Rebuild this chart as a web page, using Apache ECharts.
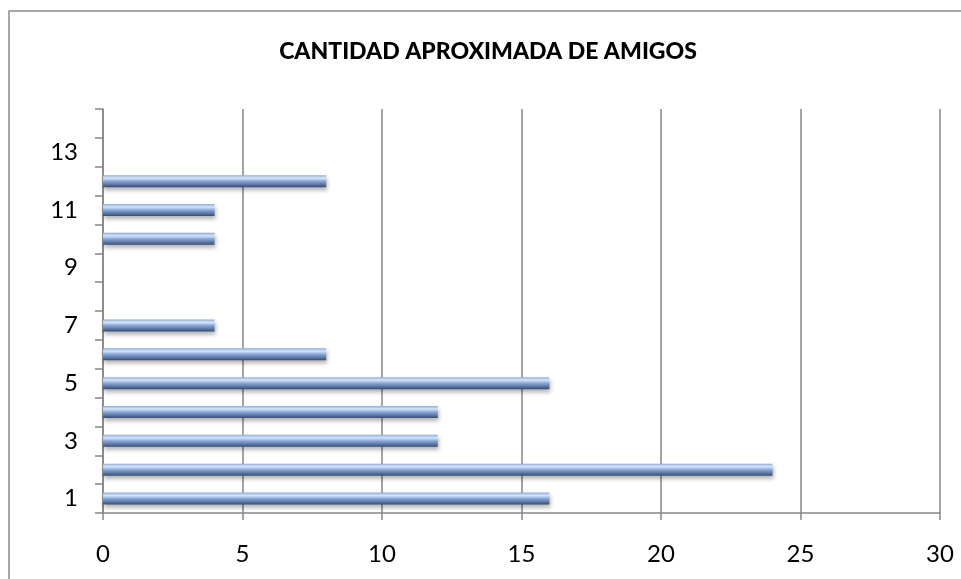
<!DOCTYPE html>
<html>
<head>
<meta charset="utf-8">
<script src="https://cdn.jsdelivr.net/npm/echarts@6/dist/echarts.min.js"></script>
<style>
    html, body { margin: 0; padding: 0; background: #fff; }
    #chart { width: 961px; height: 579px; }
</style>
</head>
<body>
<div id="chart"></div>
<script>
// datos
const categories = ['1', '2', '3', '4', '5', '6', '7', '8', '9', '10', '11', '12', '13', '14'];
const amigos = [16, 24, 12, 12, 16, 8, 4, 0, 0, 4, 4, 8, 0, 0];
const xTicks = { min: 0, max: 30, interval: 5 };

const charts = echarts.init(document.getElementById('chart'));

// degradado para imitar el bisel de la barra
const barColor = new echarts.graphic.LinearGradient(0, 0, 0, 1, [
    { offset: 0, color: '#8eaddb' },
    { offset: 0.25, color: '#d4e5fc' },
    { offset: 0.5, color: '#89a8d6' },
    { offset: 0.8, color: '#5873a0' },
    { offset: 1, color: '#364c72' }
]);

let option = {
    animation: false,
    title: {
        text: 'CANTIDAD APROXIMADA DE AMIGOS',
        left: 483,
        textAlign: 'center',
        top: 35,
        textStyle: {
            color: '#000',
            fontFamily: 'Lato',
            fontWeight: 900,
            fontSize: 23,
        },
    },
    graphic: [
        {
            type: 'rect',
            shape: { x: 9, y: 11, width: 980, height: 600 },
            style: { fill: 'none', stroke: '#8a8a8a', lineWidth: 1.5 },
            silent: true,
        }
    ],
    grid: {
        left: 103,
        right: 21,
        top: 109,
        bottom: 66,
    },
    xAxis: {
        type: 'value',
        min: xTicks.min,
        max: xTicks.max,
        interval: xTicks.interval,
        axisLine: { show: true, lineStyle: { color: '#868686', width: 1.5 } },
        axisTick: { show: true, length: 7, lineStyle: { color: '#868686', width: 1.5 } },
        splitLine: { show: true, lineStyle: { color: '#868686', width: 1.5 } },
        axisLabel: {
            color: '#000',
            fontFamily: 'Lato',
            fontSize: 24,
            margin: 29,
        },
    },
    yAxis: {
        type: 'category',
        data: categories,
        axisLine: { show: true, lineStyle: { color: '#868686', width: 1.5 } },
        axisTick: { show: true, interval: 0, length: 8, lineStyle: { color: '#868686', width: 1.5 } },
        axisLabel: {
            interval: 1,
            color: '#000',
            fontFamily: 'Lato',
            fontSize: 24,
            margin: 25,
        },
    },
    series: [
        {
            type: 'bar',
            data: amigos,
            barWidth: 12,
            itemStyle: {
                color: barColor,
                shadowColor: 'rgba(0,0,0,0.3)',
                shadowBlur: 4,
                shadowOffsetY: 3,
                shadowOffsetX: 1,
            },
        }
    ]
};

charts.setOption(option);
</script>
</body>
</html>
